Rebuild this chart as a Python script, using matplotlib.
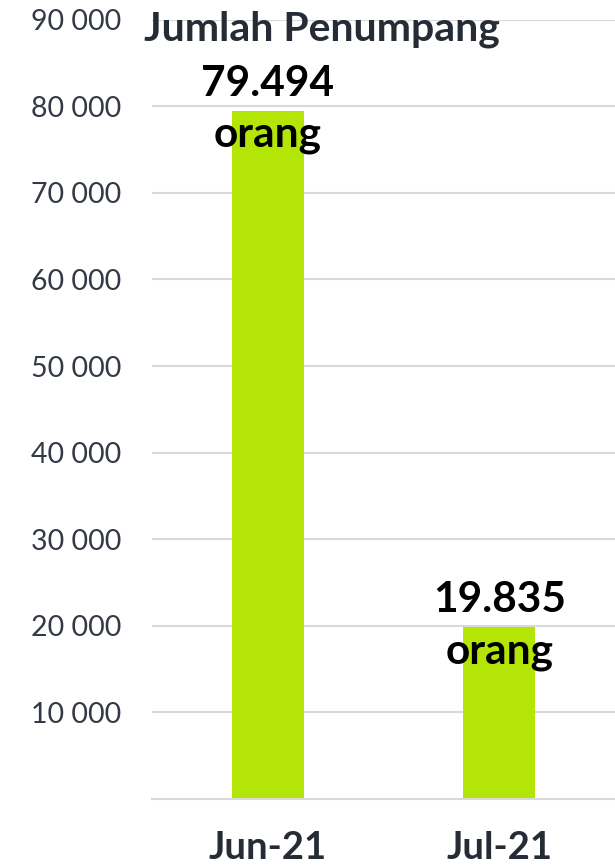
import matplotlib.pyplot as plt
import numpy as np

# data
months = ["Jun-21", "Jul-21"]
penumpang = [79494, 19835]
value_labels = ["79.494", "19.835"]
satuan = "orang"
yticks = [10000, 20000, 30000, 40000, 50000, 60000, 70000, 80000, 90000]

fig = plt.figure(figsize=(6.15, 8.67), dpi=100)
ax = fig.add_axes([0.247, 0.0784, 0.753, 0.899])

x = np.arange(len(months))
ax.bar(x, penumpang, width=0.31, color="#b3e507", zorder=2)

# two-line label centred on the top of each bar
for xi, v, lab in zip(x, penumpang, value_labels):
    ax.annotate(lab, (xi, v), xytext=(0, 15), textcoords="offset pixels",
                ha="center", va="baseline", fontsize=30.5, fontweight="bold",
                color="black", family="Lato", zorder=3)
    ax.annotate(satuan, (xi, v), xytext=(0, -36), textcoords="offset pixels",
                ha="center", va="baseline", fontsize=30.5, fontweight="bold",
                color="black", family="Lato", zorder=3)

ax.set_ylim(0, 90000)
ax.set_xlim(-0.5, 1.5)
ax.set_yticks(yticks)
ax.set_yticklabels(["{:,}".format(t).replace(",", " ") for t in yticks],
                   fontsize=20.5, color="#333a45", family="Lato")
ax.set_xticks(x)
ax.set_xticklabels(months, fontsize=27.5, fontweight="bold", color="#262c36", family="Lato")
ax.tick_params(axis="both", length=0)
ax.tick_params(axis="y", pad=22)
ax.tick_params(axis="x", pad=23)

ax.grid(axis="y", color="#d9d9d9", linewidth=1.5, zorder=0)
for s in ["top", "right", "left"]:
    ax.spines[s].set_visible(False)
ax.spines["bottom"].set_color("#d9d9d9")
ax.spines["bottom"].set_linewidth(1.5)

fig.text(0.524, 0.966, "Jumlah Penumpang", ha="center", va="center", fontsize=29.5,
         fontweight="bold", color="#262c36", family="Lato")

plt.savefig("out.png", dpi=100)
